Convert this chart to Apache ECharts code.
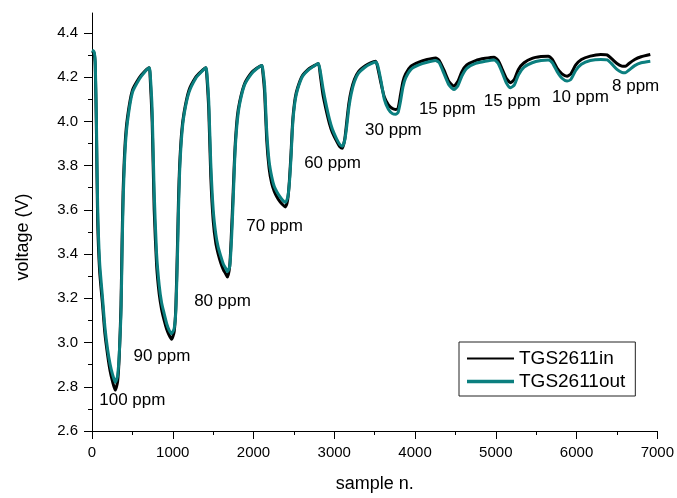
<!DOCTYPE html>
<html><head><meta charset="utf-8">
<script src="https://cdn.jsdelivr.net/npm/echarts@6/dist/echarts.min.js"></script>
<style>html,body{margin:0;padding:0;background:#fff}#c{width:677px;height:498px}</style>
</head><body><div id="c"></div>
<script>
const samples = [
0,25,40,55,70,95,131,160,193,225,255,288,317,338,359,372,385,410,440,500,585,650,709,
720,745,770,800,832,862,894,925,956,985,1018,1039,1059,1072,1085,1110,1140,1200,1285,1350,1410,
1421,1446,1471,1501,1533,1563,1595,1626,1657,1677,1706,1727,1748,1761,1774,1799,1829,1889,1974,2039,2102,
2113,2138,2163,2193,2225,2257,2292,2327,2362,2394,2423,2444,2465,2478,2491,2516,2546,2606,2691,2756,2803,
2830,2860,2894,2940,2976,3030,3070,3100,3130,3155,3180,3210,3250,3300,3380,3450,3512,
3540,3580,3620,3670,3720,3760,3790,3820,3850,3883,3950,4048,4150,4254,
4300,4360,4420,4481,4530,4580,4640,4750,4870,4980,
5030,5080,5130,5182,5230,5280,5350,5450,5560,5650,
5700,5760,5820,5882,5930,5990,6060,6170,6300,6380,
6430,6500,6560,6604,6650,6720,6800,6913
];
const tgsIn = [
4.318,4.31,4.25,3.95,3.55,3.32,3.17,3.04,2.945,2.87,2.823,2.785,2.823,2.942,3.168,3.45,3.68,3.90,4.02,4.14,4.197,4.225,4.242,
4.20,4.0,3.6,3.35,3.22,3.15,3.10,3.06,3.033,3.015,3.05,3.17,3.45,3.66,3.80,3.95,4.04,4.14,4.2,4.225,4.242,
4.21,4.05,3.75,3.55,3.45,3.40,3.36,3.33,3.31,3.296,3.35,3.50,3.68,3.80,3.90,4.02,4.09,4.17,4.22,4.24,4.253,
4.231,4.127,3.918,3.788,3.72,3.683,3.657,3.637,3.623,3.613,3.645,3.73,3.86,3.957,4.028,4.106,4.152,4.207,4.239,4.253,4.262,
4.20,4.12,4.06,3.99,3.95,3.91,3.885,3.878,3.92,4.0,4.08,4.14,4.19,4.225,4.25,4.265,4.272,
4.24,4.17,4.11,4.075,4.058,4.054,4.06,4.12,4.18,4.215,4.25,4.268,4.28,4.287,
4.275,4.23,4.18,4.159,4.18,4.225,4.255,4.275,4.285,4.29,
4.275,4.235,4.195,4.175,4.19,4.235,4.265,4.285,4.293,4.295,
4.28,4.24,4.215,4.204,4.215,4.255,4.28,4.295,4.302,4.3,
4.285,4.262,4.25,4.249,4.262,4.28,4.292,4.302
];
const tgsOut = [
4.322,4.315,4.27,4.0,3.62,3.36,3.2,3.07,2.97,2.9,2.855,2.82,2.85,2.95,3.13,3.4,3.63,3.87,4.0,4.13,4.19,4.222,4.242,
4.22,4.05,3.68,3.40,3.26,3.18,3.13,3.085,3.055,3.04,3.065,3.15,3.40,3.61,3.77,3.93,4.03,4.13,4.195,4.222,4.242,
4.225,4.09,3.81,3.60,3.49,3.43,3.39,3.355,3.335,3.32,3.345,3.46,3.64,3.77,3.88,4.0,4.08,4.165,4.215,4.238,4.253,
4.24,4.16,3.96,3.82,3.75,3.705,3.68,3.66,3.643,3.633,3.655,3.72,3.84,3.94,4.015,4.095,4.145,4.203,4.236,4.252,4.262,
4.22,4.15,4.085,4.01,3.965,3.92,3.895,3.888,3.915,3.98,4.06,4.125,4.18,4.218,4.245,4.26,4.268,
4.25,4.18,4.1,4.055,4.035,4.032,4.04,4.09,4.155,4.195,4.235,4.255,4.267,4.275,
4.265,4.215,4.165,4.144,4.16,4.205,4.24,4.262,4.272,4.278,
4.262,4.22,4.175,4.152,4.165,4.21,4.245,4.265,4.275,4.278,
4.265,4.225,4.195,4.182,4.19,4.23,4.258,4.275,4.28,4.278,
4.262,4.235,4.222,4.22,4.232,4.252,4.265,4.272
];
const labelText = ['100 ppm','90 ppm','80 ppm','70 ppm','60 ppm','30 ppm','15 ppm','15 ppm','10 ppm','8 ppm'];
const labelX = [90,515,1265,1910,2627,3381,4048,4852,5697,6439];
const labelY = [2.74,2.938,3.186,3.527,3.81,3.96,4.054,4.092,4.107,4.159];
const xMajor = [0,1000,2000,3000,4000,5000,6000,7000];
const xMinor = [500,1500,2500,3500,4500,5500,6500];
const yMajor = [2.6,2.8,3.0,3.2,3.4,3.6,3.8,4.0,4.2,4.4];
const yMinor = [2.7,2.9,3.1,3.3,3.5,3.7,3.9,4.1,4.3];

const FONT = '"Liberation Sans", Arial, sans-serif';
const chart = echarts.init(document.getElementById('c'), null, {renderer:'canvas'});
const pairs = (ys) => samples.map((x,i)=>[x, ys[i]]);
const baseX = {type:'value', min:0, max:7000, splitLine:{show:false}};
const baseY = {type:'value', min:2.6, max:4.49, splitLine:{show:false}};
chart.setOption({
  animation:false,
  backgroundColor:'#fff',
  grid:{left:92, right:18, top:13, bottom:65},
  xAxis:[
    Object.assign({}, baseX, {
      name:'sample n.', nameLocation:'middle', nameGap:44,
      nameTextStyle:{fontSize:18, color:'#000', fontFamily:FONT},
      axisLine:{show:true, onZero:false, lineStyle:{color:'#000', width:1}},
      axisTick:{show:true, inside:false, length:8, customValues:xMajor, lineStyle:{color:'#000'}},
      axisLabel:{show:true, margin:14, fontSize:15, color:'#000', fontFamily:FONT, customValues:xMajor,
        formatter:(v)=>String(Math.round(v))}
    }),
    Object.assign({}, baseX, {
      position:'bottom', axisLine:{show:false, onZero:false},
      axisTick:{show:true, length:4, customValues:xMinor, lineStyle:{color:'#000'}},
      axisLabel:{show:false}
    })
  ],
  yAxis:[
    Object.assign({}, baseY, {
      name:'voltage (V)', nameLocation:'middle', nameGap:60,
      nameTextStyle:{fontSize:18, color:'#000', fontFamily:FONT, padding:[0,30,0,0]},
      axisLine:{show:true, onZero:false, lineStyle:{color:'#000', width:1}},
      axisTick:{show:true, inside:false, length:8, customValues:yMajor, lineStyle:{color:'#000'}},
      axisLabel:{show:true, margin:14, fontSize:15, color:'#000', fontFamily:FONT, customValues:yMajor,
        formatter:(v)=>Number(v).toFixed(1)}
    }),
    Object.assign({}, baseY, {
      position:'left', axisLine:{show:false, onZero:false},
      axisTick:{show:true, length:4, customValues:yMinor, lineStyle:{color:'#000'}},
      axisLabel:{show:false}
    })
  ],
  legend:{
    orient:'vertical', left:459, top:342, padding:[7,10,5,8], itemGap:4,
    itemWidth:47, itemHeight:12, borderColor:'#222', borderWidth:1, borderRadius:0,
    textStyle:{fontSize:19, color:'#000', fontFamily:FONT},
    data:[
      {name:'TGS2611in', icon:'path://M0,0L0,0M0,12L0,12M0,5H47V7H0Z', itemStyle:{color:'#000'}},
      {name:'TGS2611out', icon:'path://M0,0L0,0M0,12L0,12M0,4.25H47V7.75H0Z', itemStyle:{color:'#0b7f7f'}}
    ]
  },
  series:[
    {name:'TGS2611in', type:'line', data:pairs(tgsIn), showSymbol:false, symbol:'none',
      smooth:0.2, color:'#000', lineStyle:{color:'#000', width:3, join:'round'}, z:2},
    {name:'TGS2611out', type:'line', data:pairs(tgsOut), showSymbol:false, symbol:'none',
      smooth:0.2, color:'#0b7f7f', lineStyle:{color:'#0b7f7f', width:3, join:'round'}, z:3},
    {name:'labels', type:'scatter', symbolSize:0, silent:true, z:5,
      data:labelX.map((x,i)=>[x, labelY[i]]),
      label:{show:true, position:[0,0], align:'left', verticalAlign:'middle',
        fontSize:17, color:'#000', opacity:1, fontFamily:FONT,
        formatter:(p)=>labelText[p.dataIndex]}}
  ]
});
</script></body></html>
